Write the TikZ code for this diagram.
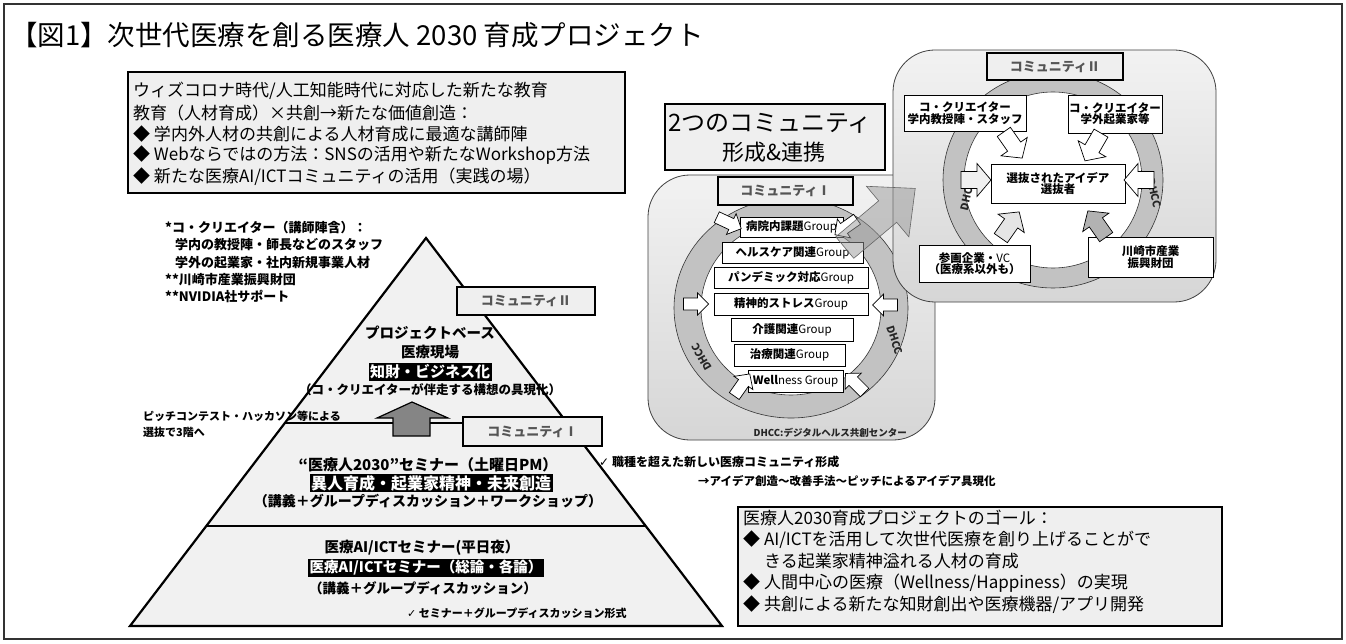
\documentclass[tikz,border=0pt]{standalone}
\usepackage{fontspec}
\setmainfont{Noto Sans CJK JP}
\newfontfamily\dejavu{DejaVu Sans}
\usetikzlibrary{calc,shadows}
\definecolor{lightbox}{HTML}{EFEFEF}
\definecolor{pyrfill}{HTML}{F1F1F1}
\definecolor{labtext}{HTML}{555555}
\definecolor{ringgray}{HTML}{C2C2C2}
\definecolor{panellight}{HTML}{F2F2F2}
\definecolor{paneldark}{HTML}{D6D6D6}
\newcommand{\myfs}[1]{\fontsize{#1}{#1}\selectfont}
\newcommand{\chk}{{\dejavu ✓}}
\begin{document}
\begin{tikzpicture}[x=1pt,y=-1pt,
  txt/.style={inner sep=0pt, anchor=west, font=\myfs{17}},
  note/.style={inner sep=0pt, anchor=west, font=\bfseries\myfs{13}},
  pyt/.style={inner sep=0pt, font=\bfseries\myfs{14.5}},
  inv/.style={fill=black, text=white, inner sep=1.5pt},
  comlab/.style={draw=black, line width=2.4pt, fill=lightbox, text=labtext, font=\bfseries\myfs{13}, inner sep=0pt},
  grp/.style={draw=black, fill=white, line width=0.6pt, font=\bfseries\myfs{11.5}, inner sep=0pt,
     drop shadow={shadow xshift=1.3pt, shadow yshift=-1.3pt, fill=black!45, opacity=1}},
  cbox/.style={draw=black, fill=white, line width=0.8pt, align=center, font=\bfseries\myfs{11.5}, inner sep=0pt},
  wa/.style={draw=black, line width=0.7pt, fill=white},
  bigbox/.style={draw=black, line width=2.2pt, fill=lightbox},
  dh/.style={font=\bfseries\myfs{10.5}, inner sep=0pt, text=black!85},
  pics/barrow/.style n args={4}{code={\path[pic actions] (-#1/2,-#3/2) -- (#1/2-#4,-#3/2) -- (#1/2-#4,-#2/2) -- (#1/2,0) -- (#1/2-#4,#2/2) -- (#1/2-#4,#3/2) -- (-#1/2,#3/2) -- cycle;}},
]
\useasboundingbox (0,0) rectangle (1346,644);
\fill[white] (0,0) rectangle (1346,644);
% outer frame
\draw[line width=1.2pt, black!80] (4,4) rectangle (1342,639);
% title
\node[inner sep=0pt, anchor=west, font=\myfs{27.5}] (title) at (10,35) {【図1】次世代医療を創る医療人 2030 育成プロジェクト};

% top-left box
\draw[bigbox] (128,72) rectangle (625,193);
\node[txt] (tl1) at (133,91) {ウィズコロナ時代/人工知能時代に対応した新たな教育};
\node[txt] (tl2) at (133,113) {教育（人材育成）×共創→新たな価値創造：};
\node[txt] (tl3) at (133,134) {◆ 学内外人材の共創による人材育成に最適な講師陣};
\node[txt] (tl4) at (133,155) {◆ Webならではの方法：SNSの活用や新たなWorkshop方法};
\node[txt] (tl5) at (133,177) {◆ 新たな医療AI/ICTコミュニティの活用（実践の場）};

% notes
\node[note] (n1) at (165,228) {*コ・クリエイター（講師陣含）：};
\node[note] (n2) at (175,245) {学内の教授陣・師長などのスタッフ};
\node[note] (n3) at (175,263) {学外の起業家・社内新規事業人材};
\node[note] (n4) at (165,280) {**川崎市産業振興財団};
\node[note] (n5) at (165,296) {**NVIDIA社サポート};

% pyramid
\coordinate (apex) at (426,238);
\coordinate (bl) at (130,626);
\coordinate (br) at (722,626);
\filldraw[fill=pyrfill, draw=black, line width=2.2pt, line join=miter] (apex) -- (br) -- (bl) -- cycle;
\draw[line width=2pt] (285,423) -- (567,423);
\draw[line width=2pt] (206,526) -- (646,526);

\node[comlab, minimum width=138pt, minimum height=28pt] (c2tag) at (526,301) {コミュニティⅡ};
\node[comlab, minimum width=139pt, minimum height=29pt] (c1tag) at (532.5,431.5) {コミュニティⅠ};

\node[pyt] (p1) at (430,333) {プロジェクトベース};
\node[pyt] (p2) at (430,352) {医療現場};
\node[pyt, inv, font=\bfseries\myfs{15}] (p3) at (430,372) {知財・ビジネス化};
\node[pyt, font=\bfseries\myfs{12.5}] (p4) at (430,390) {（コ・クリエイターが伴走する構想の具現化）};

\filldraw[fill=black!48, draw=black, line width=1.2pt] (412,402) -- (448,418) -- (430,418) -- (430,436) -- (393,436) -- (393,418) -- (377,418) -- cycle;

\node[inner sep=0pt, anchor=west, font=\bfseries\myfs{11}] (pc1) at (143,416) {ピッチコンテスト・ハッカソン等による};
\node[inner sep=0pt, anchor=west, font=\bfseries\myfs{11}] (pc2) at (143,432) {選抜で3階へ};

\node[pyt, font=\bfseries\myfs{15}] (m1) at (428,465) {“医療人2030”セミナー（土曜日PM）};
\node[pyt, inv, font=\bfseries\myfs{16}] (m2) at (431,483) {異人育成・起業家精神・未来創造};
\node[pyt, font=\bfseries\myfs{14}] (m3) at (428,501) {（講義＋グループディスカッション＋ワークショップ）};

\node[pyt] (b1) at (422,548) {医療AI/ICTセミナー(平日夜）};
\node[pyt, inv] (b2) at (426,568) {医療AI/ICTセミナー（総論・各論）};
\node[pyt, font=\bfseries\myfs{13.5}] (b3) at (423,588) {（講義＋グループディスカッション）};
\node[inner sep=0pt, anchor=west, font=\bfseries\myfs{11}] (b4) at (407,613) {\chk\ セミナー＋グループディスカッション形式};

\node[inner sep=0pt, anchor=west, font=\bfseries\myfs{12}] (r1) at (599,462) {\chk\ 職種を超えた新しい医療コミュニティ形成};
\node[inner sep=0pt, anchor=west, font=\bfseries\myfs{11.5}] (r2) at (698,481) {→アイデア創造～改善手法～ピッチによるアイデア具現化};

% goal box
\draw[bigbox] (738,507) rectangle (1222,626);
\node[txt] (g1) at (743,518) {医療人2030育成プロジェクトのゴール：};
\node[txt] (g2) at (743,540) {◆ AI/ICTを活用して次世代医療を創り上げることがで};
\node[txt] (g3) at (764,561) {きる起業家精神溢れる人材の育成};
\node[txt] (g4) at (743,583) {◆ 人間中心の医療（Wellness/Happiness）の実現};
\node[txt] (g5) at (743,605) {◆ 共創による新たな知財創出や医療機器/アプリ開発};

% two communities box
\draw[bigbox] (665,104) rectangle (885,170);
\node[inner sep=0pt, font=\myfs{24}] (tc1) at (770,123) {2つのコミュニティ};
\node[inner sep=0pt, font=\myfs{22}] (tc2) at (774,152) {形成\&連携};

% ---------- Community I panel ----------
\draw[rounded corners=42pt, top color=panellight, bottom color=paneldark, draw=black!75, line width=0.8pt] (648,175) rectangle (935,440);
\fill[ringgray, even odd rule] (791,308) ellipse [x radius=117pt, y radius=110pt] (791,308) ellipse [x radius=90pt, y radius=87pt];
\draw[black!80, line width=0.6pt] (791,308) ellipse [x radius=117pt, y radius=110pt];
\filldraw[fill=white, draw=black!80, line width=0.6pt] (791,308) ellipse [x radius=90pt, y radius=87pt];
\node[dh, rotate=120] (dhc1l) at (702,357) {DHCC};
\node[dh, rotate=-72] (dhc1r) at (895,340) {DHCC};
\node[comlab, minimum width=135pt, minimum height=28pt] (c1lab) at (785.5,191) {コミュニティⅠ};

\node[grp, minimum width=103pt, minimum height=20pt] (g1b) at (791.5,227) {病院内課題{\mdseries Group}};
\node[grp, minimum width=141pt, minimum height=21pt] (g2b) at (792.5,252.5) {ヘルスケア関連{\mdseries Group}};
\node[grp, minimum width=154pt, minimum height=21pt] (g3b) at (791,277.5) {パンデミック対応{\mdseries Group}};
\node[grp, minimum width=154pt, minimum height=22pt] (g4b) at (791,304) {精神的ストレス{\mdseries Group}};
\node[grp, minimum width=122pt, minimum height=23pt] (g5b) at (792,329.5) {介護関連{\mdseries Group}};
\node[grp, minimum width=111pt, minimum height=22pt] (g6b) at (789.5,355) {治療関連{\mdseries Group}};
\node[grp, minimum width=95pt, minimum height=22pt] (g7b) at (795.5,381) {Well{\mdseries ness Group}};

\path (729,223) pic[wa, rotate=-25] {barrow={27}{23}{12}{11}};
\path (846,227) pic[wa, rotate=-145] {barrow={27}{23}{12}{11}};
\path (696,304) pic[wa, rotate=0] {barrow={25}{22}{12}{11}};
\path (885,305) pic[wa, rotate=180] {barrow={25}{22}{12}{11}};
\path (742,385) pic[wa, rotate=55] {barrow={27}{23}{12}{11}};
\path (855,383) pic[wa, rotate=135] {barrow={27}{23}{12}{11}};

\node[dh, anchor=east, font=\bfseries\myfs{9.5}] (dhcc) at (907,433) {DHCC:デジタルヘルス共創センター};

% ---------- Community II panel ----------
\draw[rounded corners=42pt, top color=panellight, bottom color=paneldark, draw=black!75, line width=0.8pt] (893,50) rectangle (1216,302);
\fill[ringgray, even odd rule] (1053,180) ellipse [x radius=110pt, y radius=108pt] (1053,180) ellipse [x radius=89pt, y radius=88pt];
\draw[black!80, line width=0.6pt] (1053,180) ellipse [x radius=110pt, y radius=108pt];
\filldraw[fill=white, draw=black!80, line width=0.6pt] (1053,180) ellipse [x radius=89pt, y radius=88pt];
\node[dh, rotate=77] (dhc2l) at (967,196) {DHCC};
\node[dh, rotate=-77] (dhc2r) at (1154,193) {DHCC};
\node[comlab, minimum width=136pt, minimum height=27pt] (c2lab) at (1055,66.5) {コミュニティⅡ};

\node[cbox, minimum width=122pt, minimum height=36pt] (ctl) at (965,113) {コ・クリエイター\\学内教授陣・スタッフ};
\node[cbox, minimum width=94pt, minimum height=38pt] (ctr) at (1115,114) {コ・クリエイター\\学外起業家等};
\node[cbox, minimum width=134pt, minimum height=39pt] (cc) at (1058,183.5) {選抜されたアイデア\\選抜者};
\node[cbox, minimum width=111pt, minimum height=37pt] (cbl) at (974.5,263.5) {参画企業・{\mdseries VC}\\（医療系以外も）};
\node[cbox, minimum width=125pt, minimum height=40pt] (cbr) at (1150.5,257) {川崎市産業\\振興財団};

\path (1013,145) pic[wa, rotate=-55] {barrow={32}{32}{16}{14}};
\path (1093,147) pic[wa, rotate=-120] {barrow={32}{32}{16}{14}};
\path (976,180) pic[wa, fill=black!6, rotate=0] {barrow={30}{33}{17}{14}};
\path (1139,180) pic[wa, rotate=180] {barrow={30}{33}{17}{14}};
\path (1010,225) pic[wa, fill=black!10, rotate=55] {barrow={32}{32}{16}{14}};
\path (1097,224) pic[wa, fill=black!30, rotate=125] {barrow={32}{32}{16}{14}};

% big connecting arrow
\path (880,218) pic[draw=black!60, fill=black!40, fill opacity=0.5, line width=0.6pt, rotate=40] {barrow={92}{66}{28}{36}};
\end{tikzpicture}
\end{document}
